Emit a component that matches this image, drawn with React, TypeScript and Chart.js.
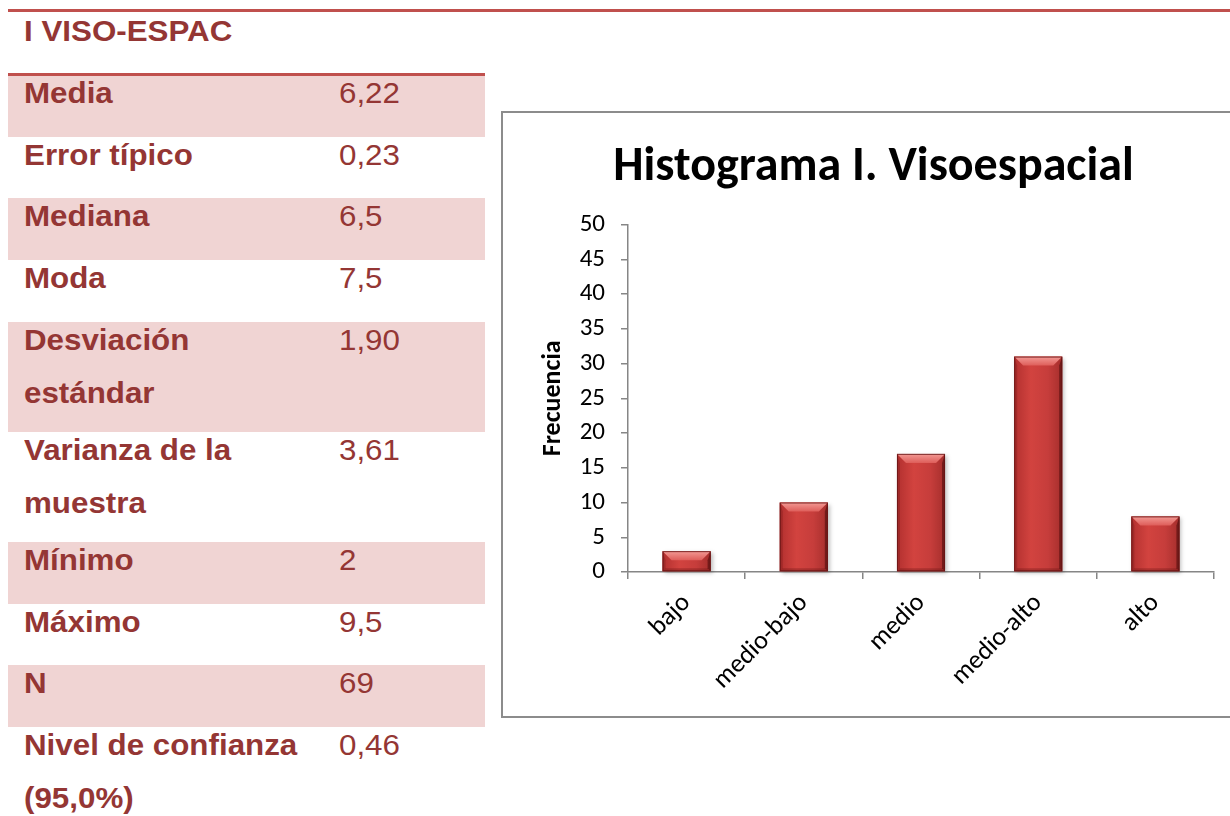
import React, { useEffect, useRef } from 'react';
import { Chart, registerables } from 'chart.js';

Chart.register(...registerables);

// ---- chart data ----
const categories = ['bajo', 'medio-bajo', 'medio', 'medio-alto', 'alto'];
const frequencies = [3, 10, 17, 31, 8];
const yMin = 0;
const yMax = 50;
const yStep = 5;
const chartTitle = 'Histograma I. Visoespacial';
const yAxisTitle = 'Frecuencia';

// ---- table data ----
const tableTitle = 'I VISO-ESPAC';
const statLabels = [
  ['Media'],
  ['Error típico'],
  ['Mediana'],
  ['Moda'],
  ['Desviación', 'estándar'],
  ['Varianza de la', 'muestra'],
  ['Mínimo'],
  ['Máximo'],
  ['N'],
  ['Nivel de confianza', '(95,0%)'],
];
const statValues = ['6,22', '0,23', '6,5', '7,5', '1,90', '3,61', '2', '9,5', '69', '0,46'];
const rowHeights = [62, 61, 62, 62, 110, 110, 62, 61, 62, 100];

const CHART_FONT = 'Carlito, Lato, "Open Sans", sans-serif';
const TEXT_RED = '#943634';
const LINE_RED = '#C0504D';
const PINK = '#F0D4D3';

const bevelPlugin = {
  id: 'bevel',
  afterDatasetsDraw(chart: any) {
    const ctx = chart.ctx as CanvasRenderingContext2D;
    const meta = chart.getDatasetMeta(0);
    meta.data.forEach((bar: any) => {
      const { x, y, base, width } = bar.getProps(['x', 'y', 'base', 'width'], true);
      const l = x - width / 2;
      const r = x + width / 2;
      const t = Math.min(y, base);
      const b = Math.max(y, base);
      const h = b - t;
      const tb = Math.min(9, h / 2);
      const sb = Math.min(3, h / 2);
      ctx.save();
      ctx.shadowColor = 'rgba(0,0,0,0.25)';
      ctx.shadowBlur = 4;
      ctx.shadowOffsetX = 2;
      ctx.shadowOffsetY = 2;
      const g = ctx.createLinearGradient(l, 0, r, 0);
      g.addColorStop(0, '#B2302F');
      g.addColorStop(0.35, '#D2433F');
      g.addColorStop(0.7, '#C63D3B');
      g.addColorStop(1, '#A52E2C');
      ctx.fillStyle = g;
      ctx.fillRect(l, t, width, h);
      ctx.shadowColor = 'transparent';
      // top bevel
      const gt = ctx.createLinearGradient(0, t, 0, t + tb);
      gt.addColorStop(0, '#F39A95');
      gt.addColorStop(1, '#DE5E5A');
      ctx.fillStyle = gt;
      ctx.beginPath();
      ctx.moveTo(l, t);
      ctx.lineTo(r, t);
      ctx.lineTo(r - tb, t + tb);
      ctx.lineTo(l + tb, t + tb);
      ctx.closePath();
      ctx.fill();
      // bottom bevel
      ctx.fillStyle = 'rgba(110,20,20,0.35)';
      ctx.beginPath();
      ctx.moveTo(l, b);
      ctx.lineTo(r, b);
      ctx.lineTo(r - sb, b - sb);
      ctx.lineTo(l + sb, b - sb);
      ctx.closePath();
      ctx.fill();
      // left bevel
      ctx.fillStyle = 'rgba(120,25,25,0.35)';
      ctx.beginPath();
      ctx.moveTo(l, t);
      ctx.lineTo(l + sb, t + tb);
      ctx.lineTo(l + sb, b - sb);
      ctx.lineTo(l, b);
      ctx.closePath();
      ctx.fill();
      // right bevel
      ctx.fillStyle = 'rgba(70,10,10,0.55)';
      ctx.beginPath();
      ctx.moveTo(r, t);
      ctx.lineTo(r - sb, t + tb);
      ctx.lineTo(r - sb, b - sb);
      ctx.lineTo(r, b);
      ctx.closePath();
      ctx.fill();
      ctx.strokeStyle = 'rgba(100,20,20,0.8)';
      ctx.lineWidth = 1;
      ctx.strokeRect(l + 0.5, t + 0.5, width - 1, h - 1);
      ctx.restore();
    });
  },
};

function ChartBox() {
  const ref = useRef<HTMLCanvasElement>(null);
  useEffect(() => {
    const chart = new Chart(ref.current as HTMLCanvasElement, {
      type: 'bar',
      data: {
        labels: categories,
        datasets: [
          {
            data: frequencies,
            backgroundColor: '#C5403D',
            borderWidth: 0,
            barPercentage: 0.41,
            categoryPercentage: 1,
          },
        ],
      },
      options: {
        animation: false,
        responsive: false,
        maintainAspectRatio: false,
        layout: { padding: { left: 30, right: 30, top: 0, bottom: 0 } },
        plugins: {
          legend: { display: false },
          tooltip: { enabled: false },
          title: {
            display: true,
            text: chartTitle,
            color: '#000',
            font: { family: CHART_FONT, size: 48, weight: 'bold', lineHeight: 1.2 },
            padding: { top: 26, bottom: 28 },
          },
        },
        scales: {
          x: {
            grid: {
              display: true,
              drawOnChartArea: false,
              drawTicks: true,
              tickLength: 7,
              color: '#868686',
              lineWidth: 1.5,
              offset: true,
            },
            border: { color: '#868686', width: 1.5 },
            ticks: {
              color: '#000',
              font: { family: CHART_FONT, size: 26 },
              maxRotation: 45,
              minRotation: 45,
              padding: 9,
            },
            afterFit: (s: any) => {
              s.height = 144;
            },
          },
          y: {
            min: yMin,
            max: yMax,
            ticks: {
              stepSize: yStep,
              color: '#000',
              font: { family: CHART_FONT, size: 25 },
              padding: 16,
            },
            grid: {
              drawOnChartArea: false,
              drawTicks: true,
              tickLength: 7,
              color: '#868686',
              lineWidth: 1.5,
            },
            border: { color: '#868686', width: 1.5 },
            title: {
              display: true,
              text: yAxisTitle,
              color: '#000',
              font: { family: CHART_FONT, size: 26, weight: 'bold', lineHeight: 1.2 },
              padding: { top: 5, bottom: 0 },
            },
            afterFit: (s: any) => {
              s.width = 95;
            },
          },
        },
      } as any,
      plugins: [bevelPlugin],
    });
    return () => chart.destroy();
  }, []);
  return (
    <div
      style={{
        position: 'absolute',
        left: 501,
        top: 111,
        width: 760,
        height: 607,
        border: '2px solid #8C8C8C',
        boxSizing: 'border-box',
        background: '#fff',
      }}
    >
      <canvas
        ref={ref}
        width={741}
        height={603}
        style={{ position: 'absolute', left: 0, top: 0, display: 'block', width: 741, height: 603 }}
      />
    </div>
  );
}

function StatsTable() {
  const tops: number[] = [];
  let acc = 75;
  rowHeights.forEach((h) => {
    tops.push(acc);
    acc += h;
  });
  const textStyle: React.CSSProperties = {
    position: 'absolute',
    fontFamily: '"Liberation Sans", Arial, sans-serif',
    fontSize: 29,
    lineHeight: '53px',
    color: TEXT_RED,
    whiteSpace: 'nowrap',
    transform: 'scaleX(1.08)',
    transformOrigin: 'left top',
  };
  return (
    <>
      <div style={{ position: 'absolute', left: 8, top: 9, width: 1222, height: 3, background: LINE_RED }} />
      <div style={{ ...textStyle, left: 24, top: 5, fontWeight: 'bold' }}>{tableTitle}</div>
      {statLabels.map((lines, i) => (
        <React.Fragment key={i}>
          {i % 2 === 0 && (
            <div
              style={{
                position: 'absolute',
                left: 8,
                top: tops[i],
                width: 477,
                height: rowHeights[i],
                background: PINK,
              }}
            />
          )}
          <div style={{ ...textStyle, left: 24, top: tops[i] - 8, fontWeight: 'bold' }}>
            {lines.map((ln, j) => (
              <div key={j}>{ln}</div>
            ))}
          </div>
          <div style={{ ...textStyle, left: 339, top: tops[i] - 8 }}>{statValues[i]}</div>
        </React.Fragment>
      ))}
      <div style={{ position: 'absolute', left: 8, top: 73, width: 477, height: 2.5, background: LINE_RED }} />
    </>
  );
}

export default function App() {
  return (
    <div
      style={{
        position: 'absolute',
        left: 0,
        top: 0,
        width: 1230,
        height: 816,
        overflow: 'hidden',
        background: '#fff',
      }}
    >
      <StatsTable />
      <ChartBox />
    </div>
  );
}
